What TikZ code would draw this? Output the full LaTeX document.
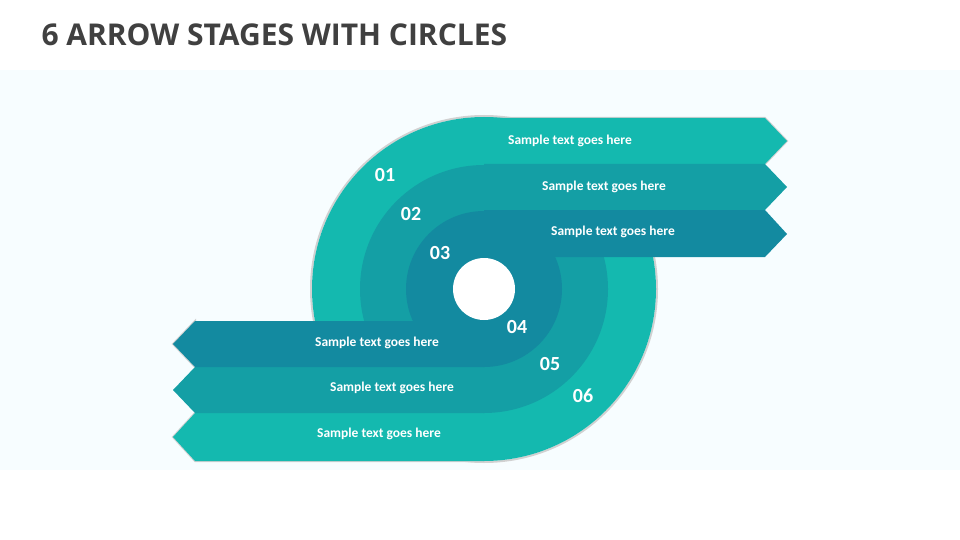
\documentclass[tikz,border=0pt]{standalone}
\usepackage{fontspec}
\setmainfont{Carlito}
\newfontfamily\titlefont{Open Sans}
\begin{document}
\begin{tikzpicture}[x=1pt,y=-1pt,
  lbl/.style={text=white,font=\bfseries\fontsize{20}{22}\selectfont},
  stxt/.style={text=white,font=\bfseries\fontsize{13.5}{15}\selectfont},
  shd/.style={draw=black!18,line width=2pt}]
\definecolor{cA}{HTML}{14B9AF}
\definecolor{cB}{HTML}{149FA5}
\definecolor{cC}{HTML}{138AA0}
\definecolor{tt}{HTML}{404040}
\useasboundingbox (0,0) rectangle (960,540);
\fill[white] (0,0) rectangle (960,540);
\fill[cyan!3] (0,70) rectangle (960,470);
\node[anchor=west,text=tt,font=\titlefont\bfseries\fontsize{30}{34}\selectfont] (title) at (38,35) {6 ARROW STAGES WITH CIRCLES};
\coordinate (c) at (484,289);
% shadows
\draw[shd] (c) circle[radius=173];
\draw[shd] (484,118) -- (765,118) -- (787,141) -- (765,164);
\draw[shd] (484,461) -- (195,461) -- (173,437) -- (195,413) -- (195,321) -- (173,344) -- (195,367);
% stage 1 / 6
\fill[cA] (c) circle[radius=172];
\fill[cA] (484,118) -- (765,118) -- (787,141) -- (765,164) -- (484,164) -- cycle;
\fill[cA] (484,413) -- (195,413) -- (173,437) -- (195,461) -- (484,461) -- cycle;
% stage 2 / 5
\fill[cB] (c) circle[radius=124];
\fill[cB] (484,164) -- (765,164) -- (787,187) -- (765,210) -- (484,210) -- cycle;
\fill[cB] (484,367) -- (195,367) -- (173,390) -- (195,413) -- (484,413) -- cycle;
% stage 3 / 4
\fill[cC] (c) circle[radius=78];
\fill[cC] (484,210) -- (765,210) -- (787,234) -- (765,257) -- (484,257) -- cycle;
\fill[cC] (484,321) -- (195,321) -- (173,344) -- (195,367) -- (484,367) -- cycle;
\fill[white] (c) circle[radius=31];
\node[lbl] (n1) at (385,175) {01};
\node[lbl] (n2) at (411,214) {02};
\node[lbl] (n3) at (440,253) {03};
\node[lbl] (n4) at (517,327) {04};
\node[lbl] (n5) at (550,364) {05};
\node[lbl] (n6) at (583,396) {06};
\node[stxt] (t1) at (570,141) {Sample text goes here};
\node[stxt] (t2) at (604,187) {Sample text goes here};
\node[stxt] (t3) at (613,232) {Sample text goes here};
\node[stxt] (t4) at (377,343) {Sample text goes here};
\node[stxt] (t5) at (392,388) {Sample text goes here};
\node[stxt] (t6) at (379,434) {Sample text goes here};
\end{tikzpicture}
\end{document}
